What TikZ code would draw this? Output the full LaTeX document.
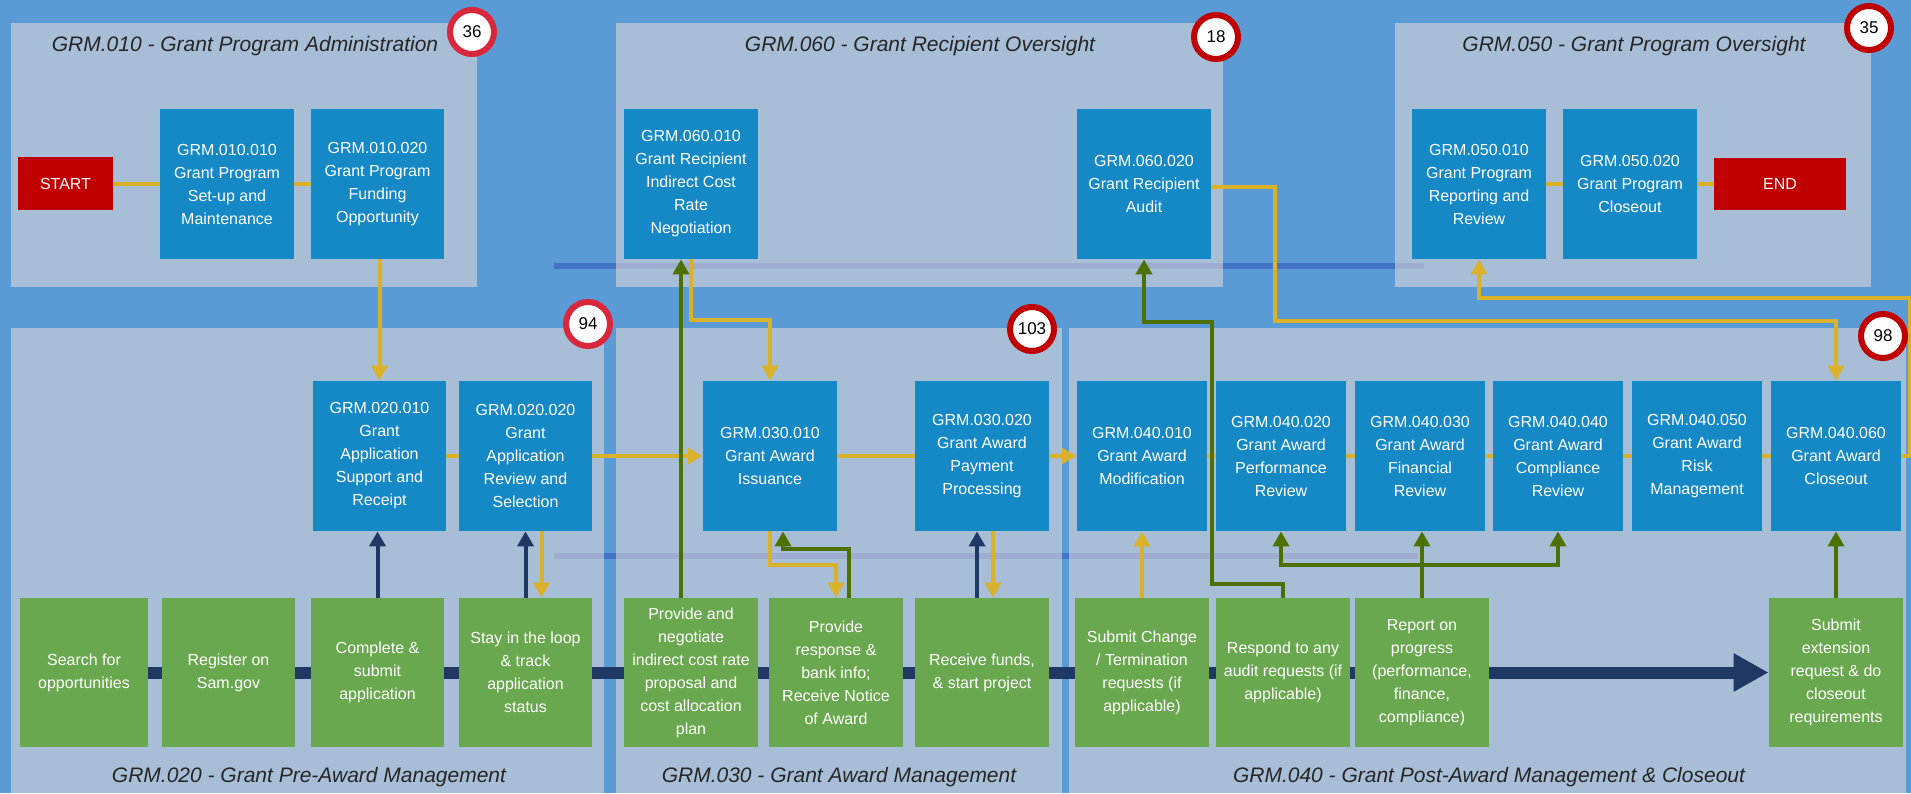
\documentclass[tikz,border=0pt]{standalone}
\usepackage{fontspec}
\setmainfont{Liberation Sans}
\usetikzlibrary{arrows.meta,calc}
\pgfdeclarelayer{back}
\pgfdeclarelayer{mid}
\pgfsetlayers{back,mid,main}
\definecolor{bgblue}{HTML}{5B9BD5}
\definecolor{secfill}{HTML}{E9DCD9}
\definecolor{barblue}{HTML}{4472C4}
\definecolor{procblue}{HTML}{1588C6}
\definecolor{grnbox}{HTML}{6AA84F}
\definecolor{termred}{HTML}{C00000}
\definecolor{ylw}{HTML}{DAB22A}
\definecolor{grnline}{HTML}{4E7000}
\definecolor{navy}{HTML}{1F3864}
\definecolor{ringdark}{HTML}{C00000}
\definecolor{ringlight}{HTML}{D9283B}
\definecolor{titlegray}{HTML}{262626}
\tikzset{
  box/.style={rectangle, inner sep=0pt, align=center, text=white, font=\fontsize{8}{11.5}\selectfont},
  pbox/.style={box, fill=procblue, minimum width=67pt, minimum height=75pt},
  gbox/.style={box, fill=grnbox, minimum width=67pt, minimum height=74.5pt},
  tbox/.style={box, fill=termred},
  sectitle/.style={font=\fontsize{10.5}{12}\selectfont\itshape, text=titlegray, inner sep=0pt},
  badge/.style={circle, fill=white, draw=#1, line width=3pt, minimum size=22pt, inner sep=0pt, text=black, font=\fontsize{8.5}{10}\selectfont},
  yl/.style={draw=ylw, line width=2pt},
  gl/.style={draw=grnline, line width=2pt},
  nl/.style={draw=navy, line width=2pt},
  arrowend/.style={-{Triangle[length=7.5pt,width=8pt]}},
  arrowboth/.style={{Triangle[length=7.5pt,width=8pt]}-{Triangle[length=7.5pt,width=8pt]}},
  secbox/.style={fill=secfill, fill opacity=0.55},
}
\begin{document}
\begin{tikzpicture}[x=0.5pt,y=-0.5pt]
\useasboundingbox (0,0) rectangle (1911,793);
\begin{pgfonlayer}{back}
  \fill[bgblue] (0,0) rectangle (1911,793);
  \draw[barblue, line width=3pt] (554,266) -- (1424,266);
  \draw[barblue, line width=3pt] (554,556) -- (1418,556);
  \fill[secbox] (11,23) rectangle (477,287);
  \fill[secbox] (616,23) rectangle (1223,287);
  \fill[secbox] (1395,23) rectangle (1871,287);
  \fill[secbox] (11,328) rectangle (604,793);
  \fill[secbox] (616,328) rectangle (1062,793);
  \fill[secbox] (1069,328) rectangle (1906,793);
\end{pgfonlayer}

% section titles
\node[sectitle] (t010) at (245,46) {GRM.010 - Grant Program Administration};
\node[sectitle] (t060) at (920,46) {GRM.060 - Grant Recipient Oversight};
\node[sectitle] (t050) at (1634,46) {GRM.050 - Grant Program Oversight};
\node[sectitle] (t020) at (309,777) {GRM.020 - Grant Pre-Award Management};
\node[sectitle] (t030) at (839,777) {GRM.030 - Grant Award Management};
\node[sectitle] (t040) at (1489,777) {GRM.040 - Grant Post-Award Management \& Closeout};

% top row
\node[tbox, minimum width=47.5pt, minimum height=26.5pt] (start) at (65.5,183.5) {START};
\node[pbox] (n010010) at (227,184) {GRM.010.010\\Grant Program\\Set-up and\\Maintenance};
\node[pbox, minimum width=66.5pt] (n010020) at (377.5,184) {GRM.010.020\\Grant Program\\Funding\\Opportunity};
\node[pbox] (n060010) at (691,184) {GRM.060.010\\Grant Recipient\\Indirect Cost\\Rate\\Negotiation};
\node[pbox] (n060020) at (1144,184) {GRM.060.020\\Grant Recipient\\Audit};
\node[pbox] (n050010) at (1479,184) {GRM.050.010\\Grant Program\\Reporting and\\Review};
\node[pbox] (n050020) at (1630,184) {GRM.050.020\\Grant Program\\Closeout};
\node[tbox, minimum width=66pt, minimum height=26pt] (endn) at (1780,184) {END};

% middle row
\node[pbox, minimum width=66.5pt] (n020010) at (379.5,456) {GRM.020.010\\Grant\\Application\\Support and\\Receipt};
\node[pbox, minimum width=66.5pt] (n020020) at (525.5,456) {GRM.020.020\\Grant\\Application\\Review and\\Selection};
\node[pbox] (n030010) at (770,456) {GRM.030.010\\Grant Award\\Issuance};
\node[pbox] (n030020) at (982,456) {GRM.030.020\\Grant Award\\Payment\\Processing};
\node[pbox, minimum width=65pt] (n040010) at (1142,456) {GRM.040.010\\Grant Award\\Modification};
\node[pbox, minimum width=65pt] (n040020) at (1281,456) {GRM.040.020\\Grant Award\\Performance\\Review};
\node[pbox, minimum width=65pt] (n040030) at (1420,456) {GRM.040.030\\Grant Award\\Financial\\Review};
\node[pbox, minimum width=65pt] (n040040) at (1558,456) {GRM.040.040\\Grant Award\\Compliance\\Review};
\node[pbox, minimum width=65pt] (n040050) at (1697,456) {GRM.040.050\\Grant Award\\Risk\\Management};
\node[pbox, minimum width=65pt] (n040060) at (1836,456) {GRM.040.060\\Grant Award\\Closeout};

% bottom row
\node[gbox, minimum width=64pt] (search) at (84,672.5) {Search for\\opportunities};
\node[gbox, minimum width=66.5pt] (register) at (228.5,672.5) {Register on\\Sam.gov};
\node[gbox, minimum width=66.5pt] (complete) at (377.5,672.5) {Complete \&\\submit\\application};
\node[gbox, minimum width=66.5pt] (stay) at (525.5,672.5) {Stay in the loop\\\& track\\application\\status};
\node[gbox] (pneg) at (691,672.5) {Provide and\\negotiate\\indirect cost rate\\proposal and\\cost allocation\\plan};
\node[gbox] (presp) at (836,672.5) {Provide\\response \&\\bank info;\\Receive Notice\\of Award};
\node[gbox] (recv) at (982,672.5) {Receive funds,\\\& start project};
\node[gbox] (subchg) at (1142,672.5) {Submit Change\\/ Termination\\requests (if\\applicable)};
\node[gbox] (resp) at (1283,672.5) {Respond to any\\audit requests (if\\applicable)};
\node[gbox] (report) at (1422,672.5) {Report on\\progress\\(performance,\\finance,\\compliance)};
\node[gbox] (subext) at (1836,672.5) {Submit\\extension\\request \& do\\closeout\\requirements};

% big navy timeline arrow (behind green boxes)
\begin{pgfonlayer}{mid}
  \draw[navy, line width=6pt, -{Triangle[length=17.5pt,width=18pt]}] (search.center) -- (subext.west);
\end{pgfonlayer}

% bend coordinates
\coordinate (Y1) at (730,320);
\coordinate (Y2a) at (1275,187);
\coordinate (Y2b) at (1275,321);
\coordinate (Y3a) at (1910,456);
\coordinate (Y3b) at (1910,298);
\coordinate (Y4) at (800,565);
\coordinate (G2) at (800,549);
\coordinate (G3a) at (1212,584);
\coordinate (G3b) at (1212,322);
\coordinate (G5) at (1420,565);

% yellow flow lines
\draw[yl] (start.east) -- (start.east -| n010010.west);
\draw[yl] (n010010.east) -- (n010010.east -| n010020.west);
\draw[yl, arrowend] (n020010.north |- n010020.south) -- (n020010.north);
\draw[yl] (n020010.east) -- (n020020.west);
\draw[yl, arrowend] (n020020.east) -- (n030010.west);
\draw[yl] (n030010.east) -- (n030020.west);
\draw[yl, arrowend] (n030020.east) -- (n040010.west);
\draw[yl] (n040010.east) -- (n040020.west);
\draw[yl] (n040020.east) -- (n040030.west);
\draw[yl] (n040030.east) -- (n040040.west);
\draw[yl] (n040040.east) -- (n040050.west);
\draw[yl] (n040050.east) -- (n040060.west);
\draw[yl] (n050010.east) -- (n050020.west);
\draw[yl] (n050020.east) -- (n050020.east -| endn.west);
\draw[yl, arrowend] (n060010.south) |- (Y1) -| (n030010.north);
\draw[yl, arrowend] (n060020.east |- Y2a) -- (Y2a) -- (Y2b) -| (n040060.north);
\draw[yl, arrowend] (n040060.east) -- (Y3a) -- (Y3b) -| (n050010.south);
\draw[yl, arrowend] (n030010.south) |- (Y4) -| (presp.north);
\draw[yl, arrowend] ([xshift=5.5pt]n030020.south) -- ([xshift=5.5pt]recv.north);
\draw[yl, arrowend] ([xshift=8pt]n020020.south) -- ([xshift=8pt]stay.north);
\draw[yl, arrowend] (subchg.north) -- (subchg.north |- n040010.south);

% navy lines
\draw[nl, arrowend] (complete.north) -- (complete.north |- n020010.south);
\draw[nl, arrowend] (stay.north) -- (n020020.south);
\draw[nl, arrowend] ([xshift=-2.5pt]recv.north) -- ([xshift=-2.5pt]n030020.south);

% green lines
\draw[gl, arrowend] ([xshift=-5pt]pneg.north) -- ([xshift=-5pt]n060010.south);
\draw[gl, arrowend] ([xshift=6.5pt]presp.north) |- (G2) -| ([xshift=6.5pt]n030010.south);
\draw[gl, arrowend] (resp.north) |- (G3a) -- (G3b) -| (n060020.south);
\draw[gl, arrowend] (report.north) -- (report.north |- n040030.south);
\draw[gl, arrowboth] (n040020.south) |- (G5) -| (n040040.south);
\draw[gl, arrowend] (subext.north) -- (n040060.south);

% badges
\node[badge=ringlight] (b36) at (472,32) {36};
\node[badge=ringdark] (b18) at (1216,37) {18};
\node[badge=ringdark] (b35) at (1869,28) {35};
\node[badge=ringlight] (b94) at (588,324) {94};
\node[badge=ringdark] (b103) at (1032,329) {103};
\node[badge=ringdark] (b98) at (1883,336) {98};
\end{tikzpicture}
\end{document}
